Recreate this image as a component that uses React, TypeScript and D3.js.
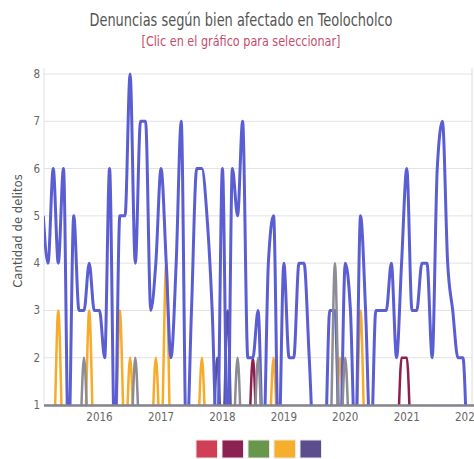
import React from "react";
import * as d3 from "d3";

// monthly counts starting Feb 2015 (one value per month)
const startYear = 2015;
const startMonth = 1; // February (0-based)

const serieRojo = new Array(85).fill(0);
const serieGuinda = [
  0, 0, 0, 0, 0, 0, 0, 0, 0, 0, 0, 0, 0, 0, 0, 0, 0, 0, 0, 0, 0, 0, 0, 0, 0,
  0, 0, 0, 0, 0, 0, 0, 0, 0, 0, 0, 0, 0, 0, 0, 0, 2, 0, 0, 0, 0, 0, 0, 0, 0,
  0, 0, 0, 0, 0, 0, 0, 0, 0, 0, 0, 0, 0, 0, 0, 0, 0, 0, 0, 0, 2, 2, 0, 0, 0,
  0, 0, 0, 0, 0, 0, 0, 0, 0, 0,
];
const serieVerde = new Array(85).fill(0);
const serieNaranja = [
  0, 0, 0, 3, 0, 0, 0, 0, 0, 3, 0, 0, 0, 0, 0, 3, 0, 2, 0, 0, 0, 0, 2, 0, 4,
  0, 0, 0, 0, 0, 0, 2, 0, 0, 0, 0, 0, 0, 0, 0, 0, 0, 0, 0, 0, 2, 0, 0, 0, 0,
  0, 0, 0, 0, 0, 0, 0, 0, 2, 0, 0, 0, 3, 0, 0, 0, 0, 0, 0, 0, 0, 0, 0, 0, 0,
  0, 0, 0, 0, 0, 0, 0, 0, 0, 0,
];
const serieMorado = [
  0, 0, 0, 0, 0, 0, 0, 0, 0, 0, 0, 0, 0, 0, 0, 0, 0, 0, 0, 0, 0, 0, 0, 0, 0,
  0, 0, 0, 0, 0, 0, 0, 0, 0, 2, 0, 3, 0, 0, 0, 0, 0, 0, 0, 0, 0, 0, 0, 0, 0,
  0, 0, 0, 0, 0, 0, 0, 0, 0, 0, 0, 0, 0, 0, 0, 0, 0, 0, 0, 0, 0, 0, 0, 0, 0,
  0, 0, 0, 0, 0, 0, 0, 0, 0, 0,
];
const serieAzul = [
  5, 4, 6, 4, 6, 0, 5, 3, 3, 4, 3, 3, 2, 6, 0, 5, 5, 8, 4, 7, 7, 3, 4, 6, 4,
  2, 4, 7, 0, 3, 6, 6, 5, 3, 0, 6, 0, 6, 5, 7, 2, 2, 3, 0, 4, 5, 0, 4, 2, 2,
  4, 4, 2, 0, 0, 0, 3, 3, 0, 4, 3, 0, 5, 3, 0, 3, 3, 3, 4, 2, 4, 6, 3, 3, 4,
  4, 2, 6, 7, 4, 3, 2, 2, 0, 0,
];
const serieGris = [
  0, 0, 0, 0, 0, 0, 0, 0, 2, 0, 0, 0, 0, 0, 0, 0, 0, 0, 2, 0, 0, 0, 0, 0, 0,
  0, 0, 0, 0, 0, 0, 0, 0, 0, 0, 0, 0, 0, 2, 0, 0, 0, 2, 0, 0, 0, 0, 0, 0, 0,
  0, 0, 0, 0, 0, 0, 0, 4, 0, 2, 0, 0, 0, 0, 0, 0, 0, 0, 0, 0, 0, 0, 0, 0, 0,
  0, 0, 0, 0, 0, 0, 0, 0, 0, 0,
];

const yTicks = [1, 2, 3, 4, 5, 6, 7, 8];
const xYears = [2016, 2017, 2018, 2019, 2020, 2021, 2022];

const series = [
  { data: serieRojo, color: "#cf4057", width: 2.5 },
  { data: serieGuinda, color: "#8e1f4f", width: 2.5 },
  { data: serieVerde, color: "#67974a", width: 2.5 },
  { data: serieNaranja, color: "#f7ab2a", width: 2.5 },
  { data: serieMorado, color: "#5a4f8e", width: 2.5 },
  { data: serieAzul, color: "#5b5ed3", width: 3 },
  { data: serieGris, color: "#8c8c94", width: 2.5 },
];
const legendColors = ["#cf4057", "#8c2251", "#67974a", "#f6ae2d", "#5b4e8f"];

const W = 474;
const H = 459;
const font = "'DejaVu Sans Condensed', 'Liberation Sans Narrow', Lato, sans-serif";

const App = () => {
  const dates = serieAzul.map((_, i) => new Date(startYear, startMonth + i, 1));

  const x = d3
    .scaleTime()
    .domain([new Date(2015, 1, 1), new Date(2022, 1, 1)])
    .range([43.3, 473.4]);
  const y = d3.scaleLinear().domain([1, 8]).range([405, 74]);

  const line = d3
    .line<number>()
    .x((d, i) => x(dates[i]))
    .y((d) => y(d))
    .curve(d3.curveMonotoneX);

  return (
    <svg
      width={W}
      height={H}
      style={{ position: "absolute", left: 0, top: 0, background: "#fff" }}
      fontFamily={font}
    >
      <defs>
        <clipPath id="plot">
          <rect x={44} y={60} width={430} height={345.5} />
        </clipPath>
      </defs>

      <text
        x={241}
        y={26}
        textAnchor="middle"
        fontSize={17}
        fill="#555"
        textLength={303}
        lengthAdjust="spacingAndGlyphs"
      >
        Denuncias según bien afectado en Teolocholco
      </text>
      <text
        x={241}
        y={46}
        textAnchor="middle"
        fontSize={14}
        fill="#c54d6c"
        textLength={199}
        lengthAdjust="spacingAndGlyphs"
      >
        [Clic en el gráfico para seleccionar]
      </text>

      {/* grid */}
      {yTicks.map((t) => (
        <g key={t}>
          <line x1={44} x2={472} y1={y(t)} y2={y(t)} stroke="#e2e2e2" />
          <text
            x={40}
            y={y(t)}
            dy="0.35em"
            textAnchor="end"
            fontSize={11.5}
            fill="#666"
          >
            {t}
          </text>
        </g>
      ))}
      <line x1={44} x2={44} y1={68} y2={405} stroke="#e2e2e2" />
      <line x1={472} x2={472} y1={68} y2={405} stroke="#dcdcdc" />

      <text
        transform="translate(22,231) rotate(-90)"
        textAnchor="middle"
        fontSize={13}
        fill="#555"
      >
        Cantidad de delitos
      </text>

      <g clipPath="url(#plot)">
        {series.map((s, k) => (
          <path
            key={k}
            d={line(s.data) || ""}
            fill="none"
            stroke={s.color}
            strokeWidth={s.width}
            strokeLinejoin="round"
          />
        ))}
      </g>

      <line x1={44} x2={474} y1={405.5} y2={405.5} stroke="#85838f" strokeWidth={2.5} />

      {xYears.map((yr) => (
        <text
          key={yr}
          x={x(new Date(yr, 0, 1))}
          y={421}
          textAnchor="middle"
          fontSize={11.5}
          fill="#666"
        >
          {yr}
        </text>
      ))}

      {legendColors.map((c, i) => (
        <rect
          key={c}
          x={196 + i * 26}
          y={440}
          width={21.5}
          height={18}
          fill={c}
          stroke="#f2e6ea"
          strokeWidth={1}
        />
      ))}
    </svg>
  );
};

export default App;
